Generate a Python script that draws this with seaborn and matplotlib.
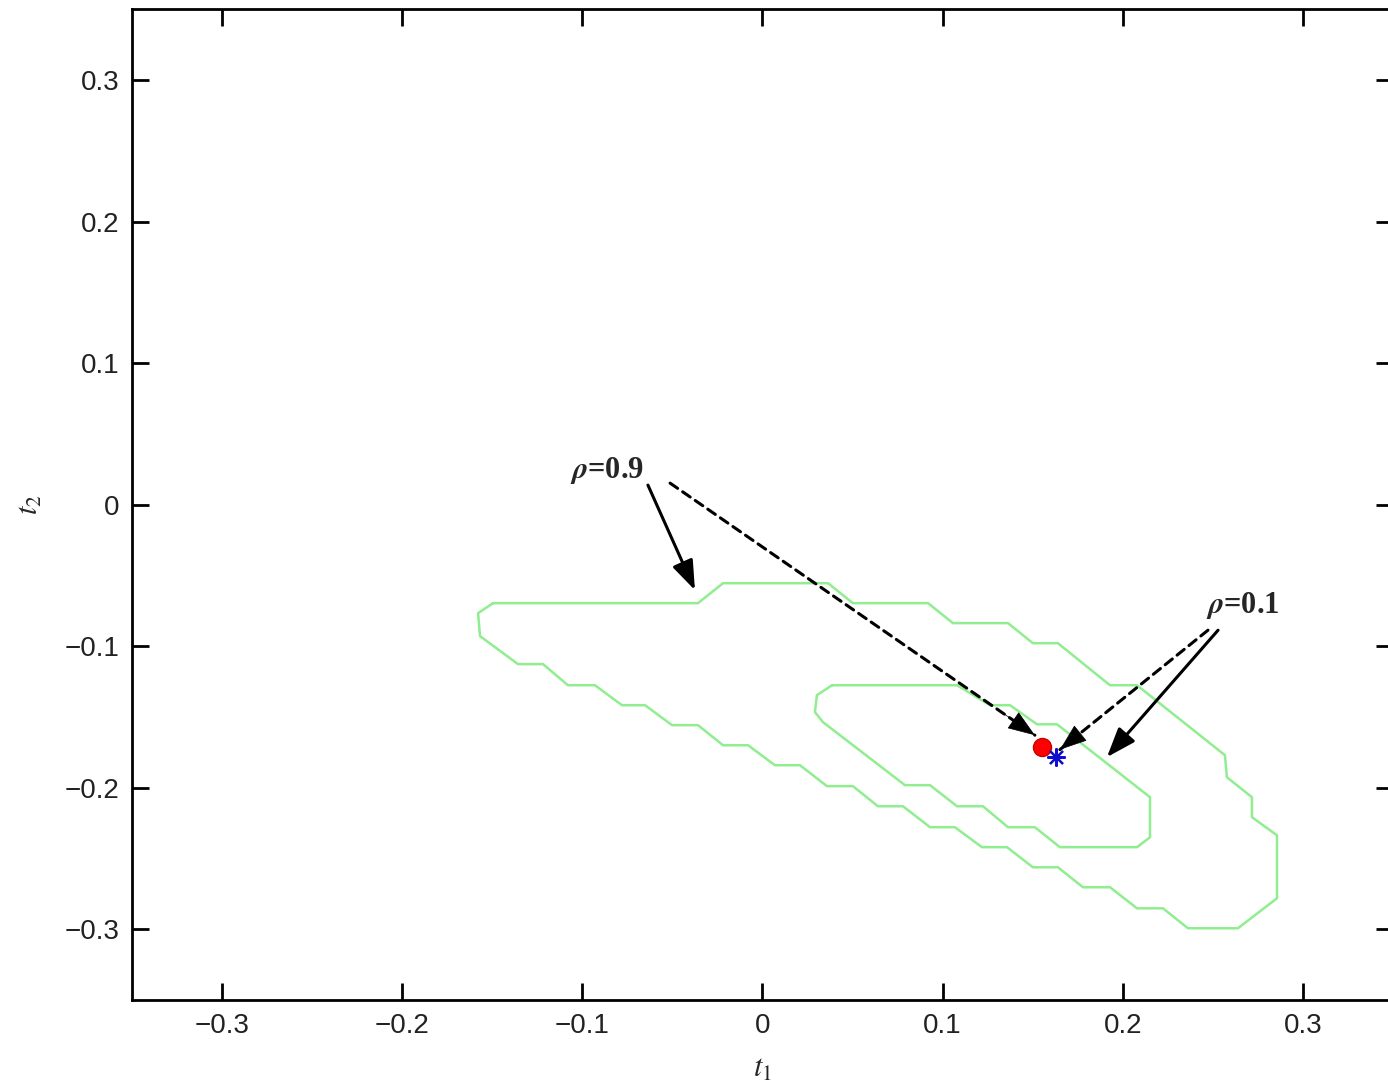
import numpy as np
import pandas as pd
import seaborn as sns
import matplotlib.pyplot as plt

# contour polygons (t1, t2)
outer_t1 = [-0.1496, -0.0358, -0.0219, 0.0364, 0.0502, 0.0919, 0.1057, 0.1363, 0.1501, 0.1640,
            0.1929, 0.2079, 0.2567, 0.2578, 0.2717, 0.2717, 0.2856, 0.2856, 0.2639, 0.2362,
            0.2223, 0.2079, 0.1929, 0.1779, 0.1640, 0.1501, 0.1357, 0.1218, 0.1068, 0.0930,
            0.0780, 0.0641, 0.0502, 0.0358, 0.0208, 0.0069, -0.0080, -0.0219, -0.0358, -0.0502,
            -0.0652, -0.0780, -0.0930, -0.1080, -0.1218, -0.1357, -0.1568, -0.1579, -0.1496]
outer_t2 = [-0.0696, -0.0696, -0.0555, -0.0555, -0.0696, -0.0696, -0.0837, -0.0837, -0.0979, -0.0979,
            -0.1276, -0.1276, -0.1770, -0.1926, -0.2067, -0.2208, -0.2336, -0.2781, -0.2993, -0.2993,
            -0.2852, -0.2852, -0.2703, -0.2703, -0.2562, -0.2562, -0.2420, -0.2420, -0.2279, -0.2279,
            -0.2131, -0.2131, -0.1989, -0.1989, -0.1841, -0.1841, -0.1700, -0.1700, -0.1558, -0.1558,
            -0.1417, -0.1417, -0.1276, -0.1276, -0.1127, -0.1127, -0.0929, -0.0767, -0.0696]

inner_t1 = [0.0386, 0.1080, 0.1263, 0.1374, 0.1524, 0.1635, 0.2151, 0.2151, 0.2079, 0.1651,
            0.1512, 0.1363, 0.1224, 0.1080, 0.0930, 0.0791, 0.0336, 0.0291, 0.0302, 0.0386]
inner_t2 = [-0.1276, -0.1276, -0.1417, -0.1417, -0.1552, -0.1552, -0.2067, -0.2350, -0.2420, -0.2420,
            -0.2279, -0.2279, -0.2131, -0.2131, -0.1982, -0.1982, -0.1537, -0.1466, -0.1346, -0.1276]

# estimates
est_circle = (0.1551, -0.1714)
est_star = (0.1629, -0.1784)

tick_vals = [-0.3, -0.2, -0.1, 0, 0.1, 0.2, 0.3]
tick_labels = ['\u22120.3', '\u22120.2', '\u22120.1', '0', '0.1', '0.2', '0.3']

sns.set_theme(style='ticks')
plt.rcParams['font.family'] = ['Liberation Sans', 'DejaVu Sans']
plt.rcParams['mathtext.fontset'] = 'stix'

fig = plt.figure(figsize=(13.88, 10.87), dpi=100)
ax = fig.add_axes([0.0951, 0.0800, 0.9085, 0.9115])

green = '#90ee90'
outer = pd.DataFrame({'t1': outer_t1, 't2': outer_t2})
inner = pd.DataFrame({'t1': inner_t1, 't2': inner_t2})
sns.lineplot(data=outer, x='t1', y='t2', sort=False, estimator=None, color=green, lw=1.8, ax=ax)
sns.lineplot(data=inner, x='t1', y='t2', sort=False, estimator=None, color=green, lw=1.8, ax=ax)

# arrows
head = dict(arrowstyle='-|>,head_length=0.6,head_width=0.22', color='black', lw=2.2,
            mutation_scale=30, shrinkA=0, shrinkB=0)


def arrow(tip, start, dashed=False):
    if not dashed:
        ax.annotate('', xy=tip, xytext=start, arrowprops=head)
        return
    # dashed shaft, solid head
    ax.annotate('', xy=tip, xytext=start,
                arrowprops=dict(arrowstyle='-', color='black', lw=2.2, shrinkA=0, shrinkB=0,
                                linestyle=(0, (3, 2))))
    f = 0.9
    mid = (start[0] + f * (tip[0] - start[0]), start[1] + f * (tip[1] - start[1]))
    ax.annotate('', xy=tip, xytext=mid, arrowprops=dict(head, lw=0.5))


arrow((-0.0375, -0.0604), (-0.0636, 0.0138))
arrow((0.1512, -0.1629), (-0.0513, 0.0152), dashed=True)
arrow((0.1912, -0.1784), (0.2529, -0.0887))
arrow((0.1651, -0.1731), (0.2473, -0.0887), dashed=True)

ax.plot(*est_circle, 'o', color='red', mec='#cc0000', ms=13, zorder=5)
ax.plot(*est_star, marker=(8, 2, 0), color='#1010cc', ms=13, mew=1.6, zorder=6)

ax.text(-0.0863, 0.0244, r'$\boldsymbol{\rho}$=0.9', family='Liberation Serif', weight='bold',
        fontsize=22, ha='center', va='center')
ax.text(0.2667, -0.0710, r'$\boldsymbol{\rho}$=0.1', family='Liberation Serif', weight='bold',
        fontsize=22, ha='center', va='center')

ax.set_xlim(-0.35, 0.35)
ax.set_ylim(-0.35, 0.35)
ax.set_xticks(tick_vals)
ax.set_xticklabels(tick_labels)
ax.set_yticks(tick_vals)
ax.set_yticklabels(tick_labels)
ax.tick_params(direction='in', top=True, right=True, length=12, width=2,
               labelsize=20, pad=9, color='black', labelcolor='#222222')
ax.set_xlabel(r'$t_1$', fontsize=22, labelpad=11)
ax.set_ylabel(r'$t_2$', fontsize=22, labelpad=14)
for s in ax.spines.values():
    s.set_linewidth(2)
    s.set_color('black')

fig.savefig('out.png', dpi=100)
